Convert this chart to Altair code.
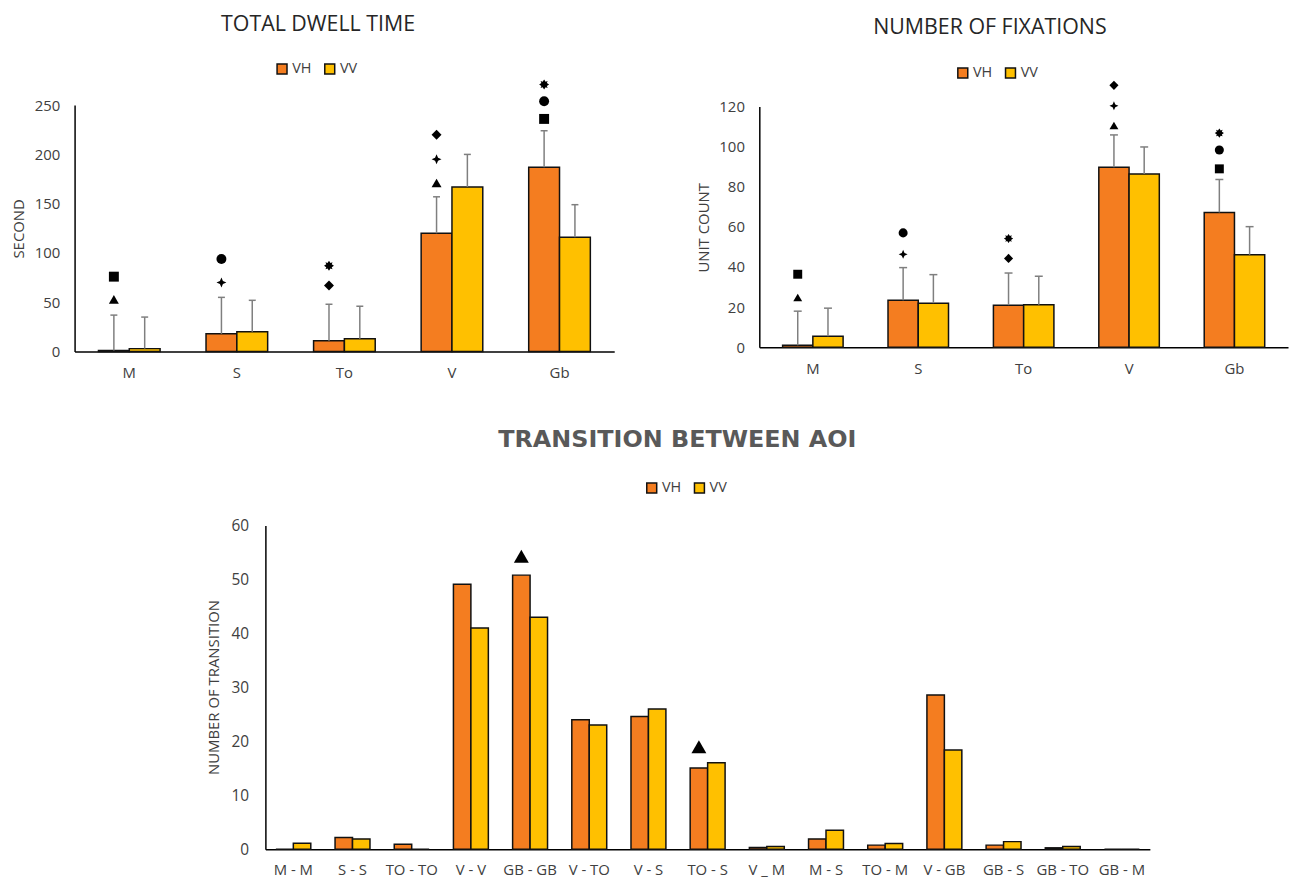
import altair as alt
import pandas as pd

SERIES = ["VH", "VV"]
ORANGE = "#F47D20"
YELLOW = "#FFC000"
GREY = "#7F7F7F"
TEXT = "#404040"

# ---------------- Panel 1: total dwell time ----------------
dwell_title = "TOTAL DWELL TIME"
dwell_ytitle = "SECOND"
dwell_cats = ["M", "S", "To", "V", "Gb"]
dwell_vh = [1, 18, 11, 120, 187]
dwell_vv = [3, 20, 13, 167, 116]
dwell_vh_upper = [37, 55, 48, 157, 224]
dwell_vv_upper = [35, 52, 46, 200, 149]
dwell_sig_cat = ["M", "M", "S", "S", "To", "To", "V", "V", "V", "Gb", "Gb", "Gb"]
dwell_sig_sym = ["triangle", "square", "star", "circle", "diamond", "asterisk",
                 "triangle", "star", "diamond", "square", "circle", "asterisk"]
dwell_sig_y = [53, 76, 70, 94, 67, 87, 171, 195, 220, 236, 254, 271]
dwell_ticks = [0, 50, 100, 150, 200, 250]

# ---------------- Panel 2: number of fixations ----------------
fix_title = "NUMBER OF FIXATIONS"
fix_ytitle = "UNIT COUNT"
fix_cats = ["M", "S", "To", "V", "Gb"]
fix_vh = [1, 23.4, 21, 89.7, 67.2]
fix_vv = [5.5, 22, 21.2, 86.3, 46.1]
fix_vh_upper = [18, 39.7, 37, 105.8, 83.6]
fix_vv_upper = [19.5, 36.2, 35.4, 99.8, 60.1]
fix_sig_cat = ["M", "M", "S", "S", "To", "To", "V", "V", "V", "Gb", "Gb", "Gb"]
fix_sig_sym = ["triangle", "square", "star", "circle", "diamond", "asterisk",
               "triangle", "star", "diamond", "square", "circle", "asterisk"]
fix_sig_y = [24.8, 36.4, 46.3, 57, 44.3, 54.2, 110.5, 120.3, 130.5, 88.9, 98.3, 106.7]
fix_ticks = [0, 20, 40, 60, 80, 100, 120]

# ---------------- Panel 3: transitions between AOI ----------------
tr_title = "TRANSITION BETWEEN AOI"
tr_ytitle = "NUMBER OF TRANSITION"
tr_cats = ["M-M", "S-S", "TO-TO", "V-V", "GB-GB", "V-TO", "V-S", "TO-S",
           "V_M", "M-S", "TO-M", "V-GB", "GB-S", "GB-TO", "GB-M"]
tr_vh = [0, 2.15, 0.9, 49.1, 50.8, 24.0, 24.6, 15.05, 0.3, 1.9, 0.75, 28.6, 0.75, 0.25, 0]
tr_vv = [1.1, 1.9, 0, 41.0, 43.0, 23.0, 26.0, 16.0, 0.5, 3.5, 1.05, 18.4, 1.4, 0.5, 0]
tr_sig_cat = ["GB-GB", "TO-S"]
tr_sig_sym = ["triangle", "triangle"]
tr_sig_y = [54.3, 19.0]
tr_ticks = [0, 10, 20, 30, 40, 50, 60]

SYM_DOMAIN = ["triangle", "square", "star", "circle", "diamond", "asterisk"]
STAR_PATH = "M0,-1L0.3,-0.3L1,0L0.3,0.3L0,1L-0.3,0.3L-1,0L-0.3,-0.3Z"
AST_PATH = ("M0,-1L0.3,-0.55L0.71,-0.71L0.55,-0.3L1,0L0.55,0.3L0.71,0.71L0.3,0.55"
            "L0,1L-0.3,0.55L-0.71,0.71L-0.55,0.3L-1,0L-0.55,-0.3L-0.71,-0.71L-0.3,-0.55Z")
SYM_SHAPES = ["triangle-up", "square", STAR_PATH, "circle", "diamond", AST_PATH]
CAP_PATH = "M-1,0L1,0"

W, H = 1290, 872


def build_panel(cats, vh, vv, vh_up, vv_up, s_cat, s_sym, s_y, ticks,
                xrange, pin, pout, yrange, ydomain, xoff, yoff, ytitle,
                ytitle_x, ytitle_y, ylab_size, xlab_size, ylab_pad, xlab_pad,
                legend_x, legend_y, sym_sizes, cap_size, label_expr=None):
    n = len(cats)
    df = pd.DataFrame({
        "cat": cats * 2,
        "series": ["VH"] * n + ["VV"] * n,
        "value": vh + vv,
    })
    if vh_up is not None:
        df["hi"] = vh_up + vv_up
    sig = pd.DataFrame({"cat": s_cat, "sym": s_sym, "y": s_y, "series": ["VH"] * len(s_cat)})

    xscale = alt.Scale(domain=cats, range=xrange, paddingInner=pin, paddingOuter=pout)
    yscale = alt.Scale(domain=ydomain, range=yrange, nice=False)
    xkw = dict(orient="bottom", offset=xoff, title=None, labelAngle=0,
               labelFontSize=xlab_size, labelPadding=xlab_pad)
    if label_expr:
        xkw["labelExpr"] = label_expr
    xaxis = alt.Axis(**xkw)
    yaxis = alt.Axis(orient="left", offset=yoff, values=ticks, title=ytitle,
                     titleX=ytitle_x, titleY=ytitle_y, titleBaseline="middle",
                     titleAlign="center", titleFontSize=15,
                     labelFontSize=ylab_size, labelPadding=ylab_pad)

    def X():
        return alt.X("cat:N", sort=cats, scale=xscale, axis=xaxis)

    def XO():
        return alt.XOffset("series:N", sort=SERIES, scale=alt.Scale(domain=SERIES))

    def Y(f):
        return alt.Y(f + ":Q", scale=yscale, axis=yaxis)

    bars = alt.Chart(df).mark_bar(stroke="#111111", strokeWidth=1.5, opacity=1).encode(
        x=X(), xOffset=XO(), y=Y("value"),
        color=alt.Color("series:N", scale=alt.Scale(domain=SERIES, range=[ORANGE, YELLOW]),
                        legend=alt.Legend(orient="none", legendX=legend_x, legendY=legend_y,
                                          direction="horizontal", title=None,
                                          symbolType="square", symbolSize=100,
                                          symbolStrokeColor="#111111", symbolStrokeWidth=1.5,
                                          labelFontSize=14.5, labelFont="Open Sans",
                                          labelColor=TEXT, columnPadding=10,
                                          labelOffset=3, padding=0)),
    )
    layers = [bars]
    if vh_up is not None:
        err = alt.Chart(df).mark_rule(color=GREY, strokeWidth=1.5).encode(
            x=X(), xOffset=XO(), y=Y("value"), y2="hi:Q")
        cap = alt.Chart(df).mark_point(shape=CAP_PATH, size=cap_size, filled=False,
                                       stroke=GREY, strokeWidth=1.5, opacity=1).encode(
            x=X(), xOffset=XO(), y=Y("hi"))
        layers += [err, cap]
    pts = alt.Chart(sig).mark_point(filled=True, color="black", opacity=1).encode(
        x=X(), xOffset=XO(), y=Y("y"),
        shape=alt.Shape("sym:N", scale=alt.Scale(domain=SYM_DOMAIN, range=SYM_SHAPES), legend=None),
        size=alt.Size("sym:N", scale=alt.Scale(domain=SYM_DOMAIN, range=sym_sizes), legend=None),
    )
    layers.append(pts)
    return alt.layer(*layers)


def title_text(txt, x, y, size, weight, color, font):
    return alt.Chart(alt.Data(values=[{"t": txt}])).mark_text(
        align="center", baseline="middle", fontSize=size, fontWeight=weight,
        color=color, font=font).encode(x=alt.value(x), y=alt.value(y), text="t:N")


p1 = build_panel(dwell_cats, dwell_vh, dwell_vv, dwell_vh_upper, dwell_vv_upper,
                 dwell_sig_cat, dwell_sig_sym, dwell_sig_y, dwell_ticks,
                 [67, 610], 0.427, 0.222, [343, 95], [0, 250], 343 - H, -67,
                 dwell_ytitle, -56, 219, 15, 15, 15, 14.5, 268.5, 51,
                 [100, 100, 250, 110, 85, 55], 49)
p2 = build_panel(fix_cats, fix_vh, fix_vv, fix_vh_upper, fix_vv_upper,
                 fix_sig_cat, fix_sig_sym, fix_sig_y, fix_ticks,
                 [756, 1288], 0.426, 0.221, [338.7, 96.3], [0, 120], 338.7 - H, -756,
                 fix_ytitle, -56, 218, 15, 15, 15, 14.5, 953.5, 55,
                 [80, 85, 210, 90, 80, 45], 64)
p3 = build_panel(tr_cats, tr_vh, tr_vv, None, None,
                 tr_sig_cat, tr_sig_sym, tr_sig_y, tr_ticks,
                 [259, 1149], 0.41, 0.177, [843.7, 518], [0, 60], 843.7 - H, -259,
                 tr_ytitle, -52, 680.5, 15.5, 15, 17, 13.5, 640.5, 472.7,
                 [225, 225, 225, 225, 225, 225], 49,
                 label_expr="replace(replace(datum.label, '-', ' - '), '_', ' _ ')")

t1 = title_text(dwell_title, 312, 14.5, 21.5, "normal", "#262626", "Open Sans")
t2 = title_text(fix_title, 988, 17.8, 21.5, "normal", "#262626", "Open Sans")
t3 = title_text(tr_title, 673.5, 432.5, 24, "bold", "#595959", "DejaVu Sans")

chart = alt.layer(p1, p2, p3, t1, t2, t3).resolve_scale(
    x="independent", y="independent", xOffset="independent",
    color="independent", shape="independent", size="independent"
).properties(width=W, height=H, padding=0).configure_axis(
    grid=False, ticks=False, domainColor="black", domainWidth=1.5,
    labelFont="Open Sans", labelColor=TEXT, titleFont="Open Sans",
    titleColor=TEXT, titleFontWeight="normal"
).configure_view(stroke=None)

chart.save("out.html", embed_options={"renderer": "svg", "actions": False})
